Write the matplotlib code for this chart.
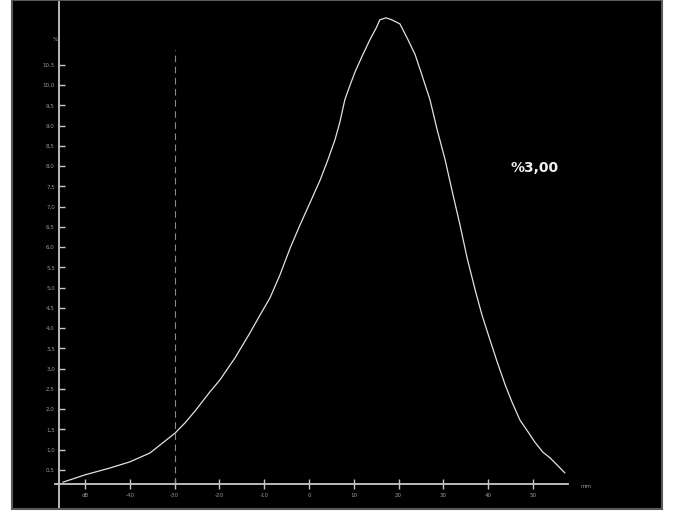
import matplotlib
matplotlib.use("Agg")
import matplotlib.pyplot as plt
from matplotlib.patches import Rectangle

# curve
curve_x = [-54.9, -50.0, -44.4, -40.0, -35.5, -29.9, -27.7, -25.4, -22.1, -19.9,
           -16.5, -13.2, -10.9, -8.7, -6.5, -4.2, -2.0, 0.2, 2.5, 4.2,
           5.8, 6.9, 8.0, 9.2, 10.3, 11.8, 13.6, 15.0, 15.8, 17.2,
           18.5, 20.3, 22.1, 23.7, 25.2, 27.0, 28.6, 30.4, 31.9, 33.7,
           35.3, 37.1, 38.6, 40.4, 42.0, 43.8, 45.3, 47.1, 48.9, 50.4,
           52.2, 53.8, 55.6, 57.1]
curve_y = [0.20, 0.38, 0.55, 0.70, 0.92, 1.41, 1.66, 1.96, 2.43, 2.72,
           3.27, 3.88, 4.33, 4.75, 5.31, 5.98, 6.55, 7.09, 7.66, 8.15,
           8.65, 9.09, 9.64, 10.01, 10.33, 10.70, 11.12, 11.41, 11.61, 11.66,
           11.61, 11.51, 11.12, 10.75, 10.25, 9.64, 8.90, 8.15, 7.41, 6.55,
           5.73, 4.94, 4.33, 3.71, 3.17, 2.60, 2.18, 1.73, 1.44, 1.19,
           0.94, 0.80, 0.60, 0.43]

x_ticks = [-50, -40, -30, -20, -10, 0, 10, 20, 30, 40, 50]
x_labels = ["dB", "-40", "-30", "-20", "-10", "0", "10", "20", "30", "40", "50"]
y_ticks = [0.5 * i for i in range(1, 22)]
y_labels = [("%.1f" % v).replace(".", ",") for v in y_ticks]
marker_x = -29.9
note = "%3,00"
base_y = 0.154

fig = plt.figure(figsize=(6.77, 5.15), dpi=100)
fig.patch.set_facecolor("white")

ax = fig.add_axes([12 / 677, 6 / 515, 650 / 677, 509 / 515])
ax.set_facecolor("black")
ax.set_xlim(-66.3, 78.8)
ax.set_ylim(-0.463, 12.10)

for s in ["top", "right"]:
    ax.spines[s].set_visible(False)
ax.spines["left"].set_position(("data", -55.8))
ax.spines["bottom"].set_position(("data", base_y))
ax.spines["bottom"].set_bounds(-56.7, 57.8)
for s in ["left", "bottom"]:
    ax.spines[s].set_color("#c8c8c8")
    ax.spines[s].set_linewidth(1.3)

ax.set_xticks(x_ticks)
ax.set_xticklabels(x_labels)
ax.set_yticks(y_ticks)
ax.set_yticklabels(y_labels)
ax.tick_params(axis="x", direction="inout", length=7, width=1, colors="#c8c8c8",
               labelsize=4, labelcolor="#9a9a9a", pad=3)
ax.tick_params(axis="y", direction="in", length=4, width=1, colors="#c8c8c8",
               labelsize=4, labelcolor="#9a9a9a", pad=3)

ax.plot(curve_x, curve_y, color="#e2e2e2", lw=0.9)
ax.plot([marker_x, marker_x], [base_y, 10.87], color="#8a8a8a", lw=0.8,
        ls=(0, (6, 4)))

ax.text(-56.7, 11.12, "%", color="#9a9a9a", fontsize=4, ha="center", va="center")
ax.text(61.8, 0.08, "mm", color="#9a9a9a", fontsize=4, ha="center", va="center")
ax.text(50.4, 7.96, note, color="#f0f0f0", fontsize=10, fontweight="bold",
        ha="center", va="center")

fig.patches.append(Rectangle((12 / 677, 6 / 515), 650 / 677, 509 / 515,
                             transform=fig.transFigure, fill=False,
                             edgecolor="#5a5a5a", lw=1.5, zorder=10))

fig.savefig("out.png", dpi=100, facecolor="white")
